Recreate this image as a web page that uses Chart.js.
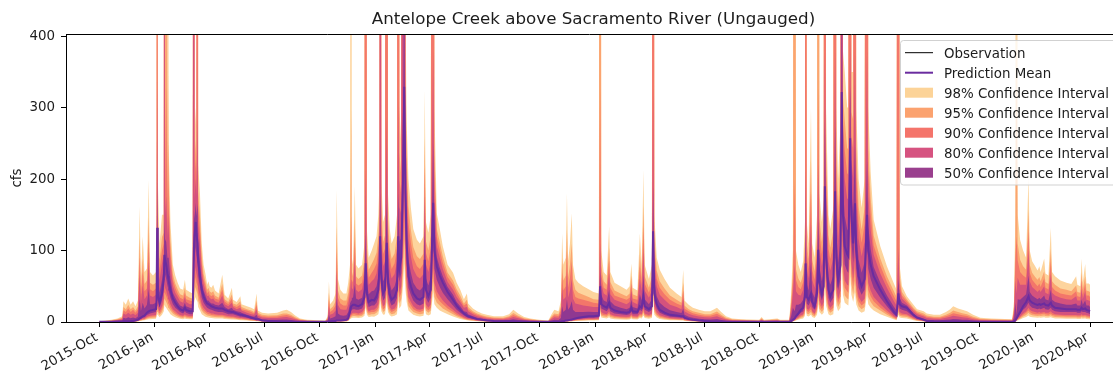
<!DOCTYPE html>
<html>
<head>
<meta charset="utf-8">
<title>Antelope Creek above Sacramento River (Ungauged)</title>
<script src="https://cdn.jsdelivr.net/npm/chart.js@4.4.1/dist/chart.umd.min.js"></script>
<style>
  html, body { margin: 0; padding: 0; background: #ffffff; }
  #wrap { width: 1113px; height: 379px; position: relative; }
  canvas { display: block; }
</style>
</head>
<body>
<div id="wrap"><canvas id="flow" width="1113" height="379"></canvas></div>
<script>
// ---- Chart text -------------------------------------------------------------
const TITLE = 'Antelope Creek above Sacramento River (Ungauged)';
const Y_LABEL = 'cfs';

// ---- Axis ticks ---------------------------------------------------------------
const yTicks = [0, 100, 200, 300, 400];
const xTickDates = ['2015-10-01','2016-01-01','2016-04-01','2016-07-01','2016-10-01',
  '2017-01-01','2017-04-01','2017-07-01','2017-10-01','2018-01-01','2018-04-01',
  '2018-07-01','2018-10-01','2019-01-01','2019-04-01','2019-07-01','2019-10-01',
  '2020-01-01','2020-04-01'];
const xTickLabels = ['2015-Oct','2016-Jan','2016-Apr','2016-Jul','2016-Oct',
  '2017-Jan','2017-Apr','2017-Jul','2017-Oct','2018-Jan','2018-Apr',
  '2018-Jul','2018-Oct','2019-Jan','2019-Apr','2019-Jul','2019-Oct',
  '2020-Jan','2020-Apr'];

// ---- Daily flow series (day = days since 2015-10-01, values in cfs) ----------
const day = [
  0,10,20,30,38,40,44,48,52,56,
  60,64,67,69,72,75,79,82,84,89,
  94,95,96,97,100,104,107,108,109,111,
  113,114,115,118,122,126,130,134,139,142,
  144,150,155,157,158,160,161,163,164,167,
  170,173,176,179,181,183,186,189,192,198,
  204,208,214,220,222,228,234,236,245,252,
  257,261,263,270,280,295,305,311,318,325,
  333,345,375,379,381,383,388,392,394,396,
  400,405,410,413,416,418,419,421,424,426,
  430,436,440,442,444,447,452,456,460,463,
  465,466,468,471,474,477,479,482,485,490,
  494,496,498,501,504,506,508,510,513,517,
  521,527,532,538,540,542,546,550,554,556,
  560,565,570,578,587,593,599,605,610,612,
  620,627,635,643,655,670,680,687,695,705,
  715,730,745,750,755,762,766,768,770,774,
  776,778,781,784,786,790,795,803,812,820,
  829,831,833,837,842,846,848,855,865,875,
  880,883,885,893,897,900,903,905,912,917,
  919,921,925,930,938,947,958,966,969,971,
  978,985,995,1005,1014,1025,1032,1040,1050,1065,
  1095,1099,1103,1125,1130,1145,1148,1151,1154,1156,
  1160,1164,1168,1171,1172,1174,1177,1181,1183,1187,
  1191,1193,1195,1199,1202,1204,1206,1210,1213,1218,
  1221,1223,1226,1230,1232,1234,1237,1241,1243,1246,
  1248,1251,1254,1256,1260,1265,1270,1274,1276,1280,
  1285,1296,1307,1318,1323,1326,1328,1332,1340,1351,
  1357,1368,1373,1385,1395,1405,1412,1417,1425,1432,
  1440,1450,1462,1480,1515,1518,1520,1522,1524,1528,
  1533,1538,1542,1544,1548,1553,1557,1560,1562,1568,
  1570,1575,1579,1581,1586,1595,1605,1613,1621,1623,
  1628,1630,1632,1636,1638,1642,1644
];

const mean = [
  .2,.3,.5,.6,.8,1,1,1.2,1.3,1.5,
  2,3,5,6,8,9,13,15,16,17,
  18,30,132,40,27,40,60,94,88,80,
  68,64,58,45,33,27,22,18,16,20,
  17,15,15,104,120,140,125,110,85,65,
  45,36,30,26,25,24,22,21,20,19,
  19,17,15,14,14,12,10,10,8,6,
  5,4,4,2,1.5,1,.8,.7,.6,.5,
  .4,.3,.3,.5,1,1,1.5,1.5,2,2,
  2,2.5,3,5,15,22,22,24,24,23,
  22,25,35,82,40,28,31,30,36,45,
  80,120,60,40,45,111,55,38,31,35,
  45,120,75,90,200,329,180,110,64,50,
  40,33,31,35,87,45,36,45,167,100,
  78,65,55,42,31,23,17,12,9,8,
  6,4,3,2,1.5,1.2,1,1,.8,.6,
  .5,.4,.3,.3,.3,.3,.5,1,1,2,
  2,2.5,3,3.5,4,5,6,7,8,8,
  9,50,25,22,20,27,20,16,14,13,
  14,20,15,14,22,20,36,22,18,22,
  127,40,25,17,13,10,9,8,8,6,
  4,3,2,1.5,1,.8,.6,.5,.4,.3,
  .3,.3,.3,.3,.3,.3,1,3,5,8,
  12,17,20,35,82,35,31,40,28,22,
  40,101,55,40,50,190,90,45,36,45,
  183,90,59,80,322,150,106,95,92,257,
  150,110,166,100,64,50,60,150,100,80,
  64,45,29,15,10,40,25,22,20,10,
  6,3,1.5,1,.8,.7,.7,.6,.6,.5,
  .5,.4,.4,.3,.3,.5,2,5,8,14,
  22,28,36,30,27,25,24,25,24,26,
  24,23,27,23,20,19,18,18,18,17,
  17,20,18,19,17,16,15
];

const hi98 = [
  1,2,3,5,8,29,24,33,24,29,
  22,30,162,60,120,70,75,199,70,65,
  70,150,4000,200,110,150,150,5000,250,3000,
  200,2000,250,140,80,65,55,47,45,59,
  45,42,40,5000,260,300,260,4000,220,180,
  110,80,68,52,57,50,48,52,44,40,
  66,38,33,48,31,28,36,25,22,20,
  18,40,16,13,12,13,16,17,14,9,
  5,3,2,8,57,25,30,40,185,60,
  45,40,40,55,80,2000,90,80,190,80,
  75,80,110,4000,130,90,100,110,120,150,
  200,5000,200,140,150,4000,180,130,110,120,
  150,4000,300,250,5000,6000,450,280,200,160,
  130,115,110,120,325,140,125,150,4000,300,
  152,130,106,80,69,55,45,32,40,26,
  19,15,12,10,8,8,11,17,12,7,
  5,3,2,10,17,15,30,124,80,90,
  180,85,110,152,80,60,55,50,46,42,
  40,3000,100,70,65,134,70,55,50,45,
  50,82,48,44,124,80,213,80,60,80,
  4000,150,90,73,60,48,40,35,73,30,
  24,20,17,15,15,20,14,8,5,4,
  3,7,3,5,3,3,40,100,3000,100,
  80,70,85,140,4000,140,110,300,110,90,
  150,3000,180,140,170,4000,300,150,130,160,
  4000,300,200,280,6000,380,350,300,300,4000,
  350,350,4000,300,200,160,200,4000,300,210,
  143,106,78,55,45,4000,80,50,36,24,
  18,15,12,10,10,14,18,22,19,17,
  15,10,6,5,4,30,150,2000,150,115,
  100,90,205,100,85,78,72,78,70,89,
  68,65,132,70,64,58,55,53,64,52,
  50,89,55,81,54,54,52
];

const hi95 = [
  .8,1.5,2.3,3.8,6,21,18,24,18,21,
  16,22,118,45,89,53,58,147,55,52,
  55,116,3000,155,87,119,125,4000,205,2000,
  163,350,196,113,67,54,46,39,37,48,
  37,34,33,4000,221,255,222,3000,182,148,
  92,68,57,45,48,43,41,43,37,34,
  53,32,28,39,26,24,29,21,18,16,
  14,30,13,10,9.1,9.6,12,12,10,6.6,
  3.7,2.2,1.5,5.9,41,18,22,29,134,44,
  33,30,30,41,62,300,71,64,144,64,
  60,65,89,3000,105,73,81,88,97,121,
  166,4000,161,112,121,3000,145,104,88,96,
  121,3000,237,205,4000,5000,374,232,162,129,
  105,92,88,96,258,113,100,121,3000,244,
  131,112,92,69,58,46,37,26,31,21,
  15,12,9.5,7.8,6.2,6.1,8.2,12.5,8.9,5.2,
  3.7,2.3,1.5,7.3,12,11,22,90,58,65,
  130,62,80,110,59,45,41,38,35,32,
  31,2000,79,57,52,104,56,44,40,36,
  40,65,39,36,95,63,163,64,48,64,
  3000,119,72,57,47,37,31,27,55,23,
  18,15,13,11,11,14.6,10,5.9,3.7,3,
  2.2,5.1,2.2,3.7,2.2,2.2,29,73,2000,74,
  61,55,67,111,3000,111,88,227,87,71,
  119,2000,145,112,136,3000,241,121,104,128,
  3000,241,161,224,5000,316,282,243,242,3000,
  294,283,3000,244,162,129,161,3000,244,174,
  121,89,64,44,35,3000,65,42,32,20,
  15,12,9.1,7.5,7.4,10,13,16,14,12.4,
  11,7.3,4.4,3.7,3,22,109,380,110,87,
  78,73,158,80,69,63,59,63,57,71,
  56,53,103,57,52,47,45,43,51,42,
  41,70,45,64,44,43,42
];

const hi90 = [
  .6,1.2,1.9,3,4.8,16,14,19,14,17,
  13,18,91,36,70,43,47,116,46,43,
  47,96,2000,128,73,100,110,3000,177,330,
  141,250,164,97,59,48,40,34,32,41,
  32,30,29,3000,197,228,199,2000,159,128,
  81,60,51,40,43,38,36,38,33,31,
  45,29,25,33,23,21,24,18,16,14,
  12,24,11,8,7.3,7.6,9.2,9.7,8,5.2,
  2.9,1.8,1.2,4.6,32,14,17,23,103,34,
  26,23,23,33,51,150,59,55,115,54,
  51,55,76,2000,90,62,69,74,82,103,
  146,3000,137,95,103,2000,124,89,74,82,
  103,2000,199,178,3000,4000,329,204,139,111,
  90,78,74,82,218,97,85,103,2000,210,
  119,101,83,63,52,41,32,23,26,18,
  13,10,8,6.4,5.1,4.9,6.5,9.8,7,4.1,
  3,1.8,1.2,5.6,9.5,8.4,17,69,44,50,
  100,48,62,85,46,35,33,31,29,27,
  26,330,66,48,45,86,48,37,34,31,
  34,54,33,31,78,53,133,54,41,54,
  2000,100,61,48,39,31,26,23,44,19,
  15,12.4,10,8.9,8.7,11.4,8,4.6,2.9,2.3,
  1.8,4,1.8,2.9,1.8,1.8,22,56,200,59,
  49,46,56,93,2000,93,74,183,73,59,
  100,330,124,95,116,2000,206,103,88,108,
  2000,206,137,190,4000,277,240,208,206,2000,
  260,242,2000,210,139,111,137,2000,210,152,
  107,79,56,37,29,2000,55,37,29,18,
  13,9.6,7.3,6,5.9,8,10,12.4,10.7,9.6,
  8.5,5.7,3.5,2.9,2.3,17,83,120,86,70,
  65,62,129,69,59,54,50,54,49,61,
  48,46,85,49,44,40,38,37,43,36,
  35,58,38,53,37,37,35
];

const hi80 = [
  .5,.9,1.5,2.3,3.5,12,10,13,10,12,
  9.6,13,65,27,51,32,37,85,37,35,
  38,76,343,101,59,82,94,1500,150,176,
  118,150,131,81,51,41,35,29,27,35,
  28,25,25,1500,173,201,176,286,136,109,
  70,53,44,36,37,34,32,33,29,27,
  37,25,22,27,21,18,20,16,13,11,
  10,18,8.6,6.2,5.5,5.6,6.6,6.9,5.7,3.7,
  2.1,1.3,.9,3.4,22,10,12,16,72,24,
  18,17,17,24,40,60,48,45,87,45,
  42,46,64,213,74,52,57,60,68,85,
  126,1500,113,78,85,289,103,73,61,67,
  85,312,161,151,1500,2000,283,175,116,92,
  74,64,61,67,177,81,70,85,380,176,
  106,90,74,56,45,35,28,20,21,15,
  11,8.2,6.4,5,4,3.8,4.8,7,5.1,3,
  2.2,1.4,.9,4,6.6,5.9,12,48,31,35,
  70,34,44,60,33,26,25,23,22,21,
  21,110,54,40,37,68,39,31,28,25,
  28,44,28,25,61,43,103,44,34,44,
  330,82,50,38,31,24,21,18,33,15,
  11.6,9.5,7.7,6.6,6.3,8.1,5.7,3.4,2.1,1.7,
  1.3,2.8,1.3,2.1,1.3,1.3,16,40,80,43,
  38,37,45,75,213,75,61,139,59,48,
  82,222,103,78,96,380,170,85,72,89,
  380,170,113,156,2000,237,199,173,171,395,
  226,201,380,176,116,92,113,380,176,129,
  94,68,48,30,23,104,46,33,26,15,
  11,7.6,5.5,4.4,4.3,5.8,7.3,8.7,7.6,6.8,
  6,4,2.5,2.1,1.7,12,58,40,62,52,
  52,52,100,57,49,45,42,45,42,50,
  41,39,67,41,37,34,32,31,36,30,
  30,46,32,43,31,30,29
];

const hi50 = [
  .3,.6,.9,1.3,2,5.8,4.9,6.6,5.2,6.2,
  5.4,7.6,32,15,27,19,24,46,25,25,
  27,50,198,67,41,59,75,141,116,112,
  90,90,91,61,41,34,28,23,21,27,
  22,20,19,156,144,167,148,165,108,85,
  56,44,37,30,30,28,26,26,24,23,
  27,21,18,20,17,15,14,13,10,8.4,
  7.2,10,6,3.9,3.3,3,3.4,3.5,2.9,1.9,
  1.2,.8,.6,1.8,10,5,6.3,8,33,12,
  9.3,8.9,9.3,14,26,30,34,34,52,33,
  31,34,48,123,55,39,43,44,50,63,
  100,180,84,57,63,167,76,54,44,50,
  63,180,113,117,300,500,226,139,87,69,
  55,47,44,50,127,61,51,63,250,134,
  91,76,64,49,38,28,22,15,14,11,
  8.2,5.9,4.5,3.4,2.6,2.4,2.7,3.7,2.7,1.7,
  1.3,.8,.6,1.9,3.1,2.8,5.5,22,14,17,
  32,17,21,29,17,14,14,14,14.5,14,
  14,70,38,30,28,45,29,23,20,18,
  20,31,21,19,39,30,66,32,25,32,
  190,59,36,27,21,16.5,14,12.6,19,10,
  7.4,5.9,4.6,3.8,3.4,4.1,2.9,1.8,1.2,.9,
  .8,1.4,.8,1.1,.8,.8,7.6,20,15,24,
  24,26,31,53,123,53,44,84,42,34,
  59,141,76,57,70,285,126,63,52,65,
  275,126,83,114,480,189,148,130,127,330,
  184,151,249,134,87,69,84,225,134,102,
  77,55,37,22,16,60,34,27,23,12,
  8,5,3.3,2.5,2.4,3,3.6,4.2,3.7,3.3,
  3,2,1.4,1.1,.9,5.5,27,10,32,31,
  35,39,65,42,37,34,32,34,32,37,
  32,30,45,31,28,26,24,24,26,23,
  23,32,24,30,23,23,21
];

const lo50 = [
  .2,.2,.4,.5,.6,.8,.8,.9,1,1.1,
  1.5,2.3,3.8,4.5,6,6.8,9.8,11,12,13,
  14,23,99,30,20,30,45,70,66,60,
  51,48,44,34,25,20,17,14,12,15,
  13,11,11,78,90,105,94,83,64,49,
  34,27,23,20,19,18,17,16,15,14,
  14,13,11,11,11,9,7.5,7.5,6,4.5,
  3.8,3,3,1.5,1.1,.8,.6,.5,.5,.4,
  .3,.2,.2,.4,.8,.8,1.1,1.1,1.5,1.5,
  1.5,1.9,2.3,3.8,11,17,17,18,18,17,
  17,19,26,62,30,21,23,23,27,34,
  60,90,45,30,34,83,41,29,23,26,
  34,90,56,68,150,247,135,83,48,38,
  30,25,23,26,65,34,27,34,125,75,
  59,49,41,32,23,17,13,9,6.8,6,
  4.5,3,2.3,1.5,1.1,.9,.8,.8,.6,.5,
  .4,.3,.2,.2,.2,.2,.4,.8,.8,1.5,
  1.5,1.9,2.3,2.6,3,3.8,4.5,5.3,6,6,
  6.8,38,19,17,15,20,15,12,11,9.8,
  11,15,11,11,17,15,27,17,14,17,
  95,30,19,13,9.8,7.5,6.8,6,6,4.5,
  3,2.3,1.5,1.1,.8,.6,.5,.4,.3,.2,
  .2,.2,.2,.2,.2,.2,.8,2.3,3.8,6,
  9,13,15,26,62,26,23,30,21,17,
  30,76,41,30,38,143,68,34,27,34,
  137,68,44,60,242,113,80,71,69,193,
  113,83,125,75,48,38,45,113,75,60,
  48,34,22,11,7.5,30,19,17,15,7.5,
  4.5,2.3,1.1,.8,.6,.5,.5,.5,.5,.4,
  .4,.3,.3,.2,.2,.4,1.5,3.8,6,11,
  17,21,27,23,20,19,18,19,18,20,
  18,17,20,17,15,14,14,14,14,13,
  13,15,14,14,13,12,11
];

const lo80 = [
  .1,.2,.3,.3,.4,.6,.6,.7,.7,.8,
  1.1,1.7,2.8,3.3,4.4,5,7.2,8.3,8.8,9.4,
  9.9,17,73,22,15,22,33,52,48,44,
  37,35,32,25,18,15,12,9.9,8.8,11,
  9.4,8.3,8.3,57,66,77,69,61,47,36,
  25,20,17,14,14,13,12,12,11,10,
  10,9.4,8.3,7.7,7.7,6.6,5.5,5.5,4.4,3.3,
  2.8,2.2,2.2,1.1,.8,.6,.4,.4,.3,.3,
  .2,.2,.2,.3,.6,.6,.8,.8,1.1,1.1,
  1.1,1.4,1.7,2.8,8.3,12,12,13,13,13,
  12,14,19,45,22,15,17,17,20,25,
  44,66,33,22,25,61,30,21,17,19,
  25,66,41,50,110,181,99,61,35,28,
  22,18,17,19,48,25,20,25,92,55,
  43,36,30,23,17,13,9.4,6.6,5,4.4,
  3.3,2.2,1.7,1.1,.8,.7,.6,.6,.4,.3,
  .3,.2,.2,.2,.2,.2,.3,.6,.6,1.1,
  1.1,1.4,1.7,1.9,2.2,2.8,3.3,3.9,4.4,4.4,
  5,28,14,12,11,15,11,8.8,7.7,7.2,
  7.7,11,8.3,7.7,12,11,20,12,9.9,12,
  70,22,14,9.4,7.2,5.5,5,4.4,4.4,3.3,
  2.2,1.7,1.1,.8,.6,.4,.3,.3,.2,.2,
  .2,.2,.2,.2,.2,.2,.6,1.7,2.8,4.4,
  6.6,9.4,11,19,45,19,17,22,15,12,
  22,56,30,22,28,105,50,25,20,25,
  101,50,32,44,177,83,58,52,51,141,
  83,61,91,55,35,28,33,83,55,44,
  35,25,16,8.3,5.5,22,14,12,11,5.5,
  3.3,1.7,.8,.6,.4,.4,.4,.3,.3,.3,
  .3,.2,.2,.2,.2,.3,1.1,2.8,4.4,7.7,
  12,15,20,17,15,14,13,14,13,14,
  13,13,15,13,11,10,9.9,9.9,9.9,9.4,
  9.4,11,9.9,10,9.4,8.8,8.3
];

const lo90 = [
  .1,.1,.2,.3,.4,.5,.5,.5,.6,.7,
  .9,1.4,2.3,2.7,3.6,4,5.9,6.8,7.2,7.7,
  8.1,14,59,18,12,18,27,42,40,36,
  31,29,26,20,15,12,9.9,8.1,7.2,9,
  7.7,6.8,6.8,47,54,63,56,50,38,29,
  20,16,14,12,11,11,9.9,9.5,9,8.6,
  8.6,7.7,6.8,6.3,6.3,5.4,4.5,4.5,3.6,2.7,
  2.3,1.8,1.8,.9,.7,.5,.4,.3,.3,.2,
  .2,.1,.1,.2,.5,.5,.7,.7,.9,.9,
  .9,1.1,1.4,2.3,6.8,9.9,9.9,11,11,10,
  9.9,11,16,37,18,13,14,14,16,20,
  36,54,27,18,20,50,25,17,14,16,
  20,54,34,41,90,148,81,50,29,23,
  18,15,14,16,39,20,16,20,75,45,
  35,29,25,19,14,10,7.7,5.4,4,3.6,
  2.7,1.8,1.4,.9,.7,.5,.5,.5,.4,.3,
  .2,.2,.1,.1,.1,.1,.2,.5,.5,.9,
  .9,1.1,1.4,1.6,1.8,2.3,2.7,3.2,3.6,3.6,
  4,23,11,9.9,9,12,9,7.2,6.3,5.9,
  6.3,9,6.8,6.3,9.9,9,16,9.9,8.1,9.9,
  57,18,11,7.7,5.9,4.5,4,3.6,3.6,2.7,
  1.8,1.4,.9,.7,.5,.4,.3,.2,.2,.1,
  .1,.1,.1,.1,.1,.1,.5,1.4,2.3,3.6,
  5.4,7.7,9,16,37,16,14,18,13,9.9,
  18,45,25,18,23,86,41,20,16,20,
  82,41,27,36,145,68,48,43,41,116,
  68,50,75,45,29,23,27,68,45,36,
  29,20,13,6.8,4.5,18,11,9.9,9,4.5,
  2.7,1.4,.7,.5,.4,.3,.3,.3,.3,.2,
  .2,.2,.2,.1,.1,.2,.9,2.3,3.6,6.3,
  9.9,13,16,14,12,11,11,11,11,12,
  11,10,12,10,9,8.6,8.1,8.1,8.1,7.7,
  7.7,9,8.1,8.6,7.7,7.2,6.8
];

const lo95 = [
  .1,.1,.2,.2,.3,.4,.4,.4,.5,.5,
  .7,1.1,1.8,2.1,2.8,3.2,4.6,5.3,5.6,6,
  6.3,11,46,14,9.5,14,21,33,31,28,
  24,22,20,16,12,9.5,7.7,6.3,5.6,7,
  6,5.3,5.3,36,42,49,44,39,30,23,
  16,13,11,9.1,8.8,8.4,7.7,7.4,7,6.7,
  6.7,6,5.3,4.9,4.9,4.2,3.5,3.5,2.8,2.1,
  1.8,1.4,1.4,.7,.5,.4,.3,.2,.2,.2,
  .1,.1,.1,.2,.4,.4,.5,.5,.7,.7,
  .7,.9,1.1,1.8,5.3,7.7,7.7,8.4,8.4,8,
  7.7,8.8,12,29,14,9.8,11,11,13,16,
  28,42,21,14,16,39,19,13,11,12,
  16,42,26,32,70,115,63,39,22,18,
  14,12,11,12,30,16,13,16,58,35,
  27,23,19,15,11,8,6,4.2,3.2,2.8,
  2.1,1.4,1.1,.7,.5,.4,.4,.4,.3,.2,
  .2,.1,.1,.1,.1,.1,.2,.4,.4,.7,
  .7,.9,1.1,1.2,1.4,1.8,2.1,2.5,2.8,2.8,
  3.2,18,8.8,7.7,7,9.5,7,5.6,4.9,4.6,
  4.9,7,5.3,4.9,7.7,7,13,7.7,6.3,7.7,
  44,14,8.8,6,4.6,3.5,3.2,2.8,2.8,2.1,
  1.4,1.1,.7,.5,.4,.3,.2,.2,.1,.1,
  .1,.1,.1,.1,.1,.1,.4,1.1,1.8,2.8,
  4.2,6,7,12,29,12,11,14,9.8,7.7,
  14,35,19,14,18,67,32,16,13,16,
  64,32,21,28,113,53,37,33,32,90,
  53,39,58,35,22,18,21,53,35,28,
  22,16,10,5.3,3.5,14,8.8,7.7,7,3.5,
  2.1,1.1,.5,.4,.3,.2,.2,.2,.2,.2,
  .2,.1,.1,.1,.1,.2,.7,1.8,2.8,4.9,
  7.7,9.8,13,11,9.5,8.8,8.4,8.8,8.4,9.1,
  8.4,8,9.5,8,7,6.7,6.3,6.3,6.3,6,
  6,7,6.3,6.7,6,5.6,5.3
];

const lo98 = [
  0,.1,.1,.2,.2,.3,.3,.3,.3,.4,
  .5,.8,1.3,1.5,2,2.3,3.3,3.8,4,4.3,
  4.5,7.5,33,10,6.8,10,15,24,22,20,
  17,16,15,11,8.3,6.8,5.5,4.5,4,5,
  4.3,3.8,3.8,26,30,35,31,28,21,16,
  11,9,7.5,6.5,6.3,6,5.5,5.3,5,4.8,
  4.8,4.3,3.8,3.5,3.5,3,2.5,2.5,2,1.5,
  1.3,1,1,.5,.4,.3,.2,.2,.2,.1,
  .1,.1,.1,.1,.3,.3,.4,.4,.5,.5,
  .5,.6,.8,1.3,3.8,5.5,5.5,6,6,5.8,
  5.5,6.3,8.8,21,10,7,7.8,7.5,9,11,
  20,30,15,10,11,28,14,9.5,7.8,8.8,
  11,30,19,23,50,82,45,28,16,13,
  10,8.3,7.8,8.8,22,11,9,11,42,25,
  20,16,14,11,7.8,5.8,4.3,3,2.3,2,
  1.5,1,.8,.5,.4,.3,.3,.3,.2,.2,
  .1,.1,.1,.1,.1,.1,.1,.3,.3,.5,
  .5,.6,.8,.9,1,1.3,1.5,1.8,2,2,
  2.3,13,6.3,5.5,5,6.8,5,4,3.5,3.3,
  3.5,5,3.8,3.5,5.5,5,9,5.5,4.5,5.5,
  32,10,6.3,4.3,3.3,2.5,2.3,2,2,1.5,
  1,.8,.5,.4,.3,.2,.2,.1,.1,.1,
  .1,.1,.1,.1,.1,.1,.3,.8,1.3,2,
  3,4.3,5,8.8,21,8.8,7.8,10,7,5.5,
  10,25,14,10,13,48,23,11,9,11,
  46,23,15,20,81,38,27,24,23,64,
  38,28,42,25,16,13,15,38,25,20,
  16,11,7.3,3.8,2.5,10,6.3,5.5,5,2.5,
  1.5,.8,.4,.3,.2,.2,.2,.2,.2,.1,
  .1,.1,.1,.1,.1,.1,.5,1.3,2,3.5,
  5.5,7,9,7.5,6.8,6.3,6,6.3,6,6.5,
  6,5.8,6.8,5.8,5,4.8,4.5,4.5,4.5,4.3,
  4.3,5,4.5,4.8,4.3,4,3.8
];

// ---- Styling -------------------------------------------------------------------
const FONT = '"DejaVu Sans", "Liberation Sans", sans-serif';
const TEXT_COLOR = '#1c1c1c';
const MEAN_COLOR = '#6a2c9f';
const BANDS = [
  { label: '98% Confidence Interval', lo: lo98, hi: hi98, fill: '#fdd49d', swatch: '#fcd398', order: 5 },
  { label: '95% Confidence Interval', lo: lo95, hi: hi95, fill: '#fba470', swatch: '#fba26f', order: 4 },
  { label: '90% Confidence Interval', lo: lo90, hi: hi90, fill: '#f3766a', swatch: '#f4746b', order: 3 },
  { label: '80% Confidence Interval', lo: lo80, hi: hi80, fill: '#d4527d', swatch: '#d65380', order: 2 },
  { label: '50% Confidence Interval', lo: lo50, hi: hi50, fill: '#8f3891', swatch: '#9a3f8e', order: 1 }
];

// axis window in days since 2015-10-01 (the x axis continues a little past the right edge)
const X_MIN = -55.3;
const X_MAX = 1680.5;
const Y_MAX = 403;

const START_MS = Date.UTC(2015, 9, 1);
function daysFromStart(iso) {
  const [y, m, d] = iso.split('-').map(Number);
  return Math.round((Date.UTC(y, m - 1, d) - START_MS) / 86400000);
}
const xTickDays = xTickDates.map(daysFromStart);

[mean, hi98, hi95, hi90, hi80, hi50, lo50, lo80, lo90, lo95, lo98].forEach((a, i) => {
  if (a.length !== day.length) console.warn('series ' + i + ' has ' + a.length + ' values, expected ' + day.length);
});

const points = arr => day.map((d, i) => ({ x: d, y: arr[i] }));

// ---- Datasets: each band is a hidden lower line filled up to its upper line ------
const datasets = [{
  label: 'Prediction Mean',
  data: points(mean),
  borderColor: MEAN_COLOR,
  borderWidth: 2,
  pointRadius: 0,
  fill: false,
  order: 0
}];
BANDS.forEach(b => {
  const loIndex = datasets.length;
  datasets.push({
    label: b.label + ' (lower)',
    data: points(b.lo),
    borderColor: 'rgba(0,0,0,0)',
    borderWidth: 0,
    pointRadius: 0,
    fill: false,
    order: b.order
  });
  datasets.push({
    label: b.label,
    data: points(b.hi),
    borderColor: 'rgba(0,0,0,0)',
    borderWidth: 0,
    pointRadius: 0,
    backgroundColor: b.fill,
    fill: loIndex,
    order: b.order
  });
});

// ---- Plot-area clipping, frame, date labels, title, axis label and legend -------
const decorations = {
  id: 'decorations',
  beforeDatasetsDraw(chart) {
    const { ctx, chartArea: a } = chart;
    ctx.save();
    ctx.beginPath();
    ctx.rect(a.left, a.top, a.right - a.left, a.bottom - a.top);
    ctx.clip();
  },
  afterDatasetsDraw(chart) {
    chart.ctx.restore();
  },
  afterDraw(chart) {
    const { ctx, chartArea: a } = chart;
    const xs = chart.scales.x;
    ctx.save();

    // top spine
    ctx.strokeStyle = '#000';
    ctx.lineWidth = 1;
    ctx.beginPath();
    ctx.moveTo(a.left, a.top + 0.5);
    ctx.lineTo(chart.width, a.top + 0.5);
    ctx.stroke();

    // date tick labels, rotated 30 degrees and right-aligned under each tick
    ctx.fillStyle = TEXT_COLOR;
    ctx.font = '13.4px ' + FONT;
    ctx.textAlign = 'right';
    ctx.textBaseline = 'middle';
    xTickDays.forEach((d, i) => {
      const px = xs.getPixelForValue(d);
      ctx.save();
      ctx.translate(px - 2.5, a.bottom + 14.5);
      ctx.rotate(-Math.PI / 6);
      ctx.fillText(xTickLabels[i], 0, 0);
      ctx.restore();
    });

    // title
    ctx.font = '16.7px ' + FONT;
    ctx.textAlign = 'center';
    ctx.textBaseline = 'alphabetic';
    ctx.fillText(TITLE, 593.5, 24.3);

    // y axis label
    ctx.save();
    ctx.translate(21, (a.top + a.bottom) / 2);
    ctx.rotate(-Math.PI / 2);
    ctx.font = '13.4px ' + FONT;
    ctx.textAlign = 'center';
    ctx.fillText(Y_LABEL, 0, 0);
    ctx.restore();

    // legend box
    const bx = 900.5, by = 40.5, bw = 230, bh = 144.5, r = 3;
    ctx.beginPath();
    ctx.moveTo(bx + r, by);
    ctx.lineTo(bx + bw - r, by);
    ctx.arcTo(bx + bw, by, bx + bw, by + r, r);
    ctx.lineTo(bx + bw, by + bh - r);
    ctx.arcTo(bx + bw, by + bh, bx + bw - r, by + bh, r);
    ctx.lineTo(bx + r, by + bh);
    ctx.arcTo(bx, by + bh, bx, by + bh - r, r);
    ctx.lineTo(bx, by + r);
    ctx.arcTo(bx, by, bx + r, by, r);
    ctx.closePath();
    ctx.fillStyle = 'rgba(255,255,255,0.8)';
    ctx.fill();
    ctx.strokeStyle = 'rgba(204,204,204,0.9)';
    ctx.lineWidth = 1;
    ctx.stroke();

    const rows = [
      { kind: 'line', color: '#000000', width: 1, label: 'Observation' },
      { kind: 'line', color: MEAN_COLOR, width: 2, label: 'Prediction Mean' }
    ].concat(BANDS.map(b => ({ kind: 'patch', color: b.swatch, label: b.label })));

    ctx.font = '13.4px ' + FONT;
    ctx.textAlign = 'left';
    ctx.textBaseline = 'alphabetic';
    rows.forEach((row, i) => {
      const yc = 52.7 + 20 * i;
      if (row.kind === 'line') {
        ctx.strokeStyle = row.color;
        ctx.lineWidth = row.width;
        ctx.beginPath();
        ctx.moveTo(905, yc);
        ctx.lineTo(933, yc);
        ctx.stroke();
      } else {
        ctx.fillStyle = row.color;
        ctx.fillRect(905, yc - 5, 28, 10);
      }
      ctx.fillStyle = TEXT_COLOR;
      ctx.fillText(row.label, 944, yc + 5.4);
    });

    ctx.restore();
  }
};

const tickFont = { family: FONT, size: 13.4 };

new Chart(document.getElementById('flow'), {
  type: 'line',
  data: { datasets },
  plugins: [decorations],
  options: {
    responsive: false,
    animation: false,
    devicePixelRatio: 1,
    parsing: false,
    normalized: true,
    events: [],
    layout: { padding: { top: 34, right: 1, bottom: 0, left: 0 } },
    elements: { line: { tension: 0 } },
    plugins: {
      legend: { display: false },
      title: { display: false },
      tooltip: { enabled: false },
      filler: { propagate: false }
    },
    scales: {
      x: {
        type: 'linear',
        min: X_MIN,
        max: X_MAX,
        afterBuildTicks: scale => { scale.ticks = xTickDays.map(v => ({ value: v })); },
        afterFit: scale => { scale.height = 57; },
        ticks: { display: false, autoSkip: false },
        grid: { display: true, drawOnChartArea: false, drawTicks: true, tickLength: 5, tickColor: '#000', tickWidth: 1 },
        border: { display: true, color: '#000', width: 1 }
      },
      y: {
        type: 'linear',
        min: 0,
        max: Y_MAX,
        afterBuildTicks: scale => { scale.ticks = yTicks.map(v => ({ value: v })); },
        afterFit: scale => { scale.width = 66; },
        ticks: {
          padding: 6,
          font: tickFont,
          color: TEXT_COLOR,
          callback: value => String(value)
        },
        grid: { display: true, drawOnChartArea: false, drawTicks: true, tickLength: 5, tickColor: '#000', tickWidth: 1 },
        border: { display: true, color: '#000', width: 1 }
      }
    }
  }
});
</script>
</body>
</html>
